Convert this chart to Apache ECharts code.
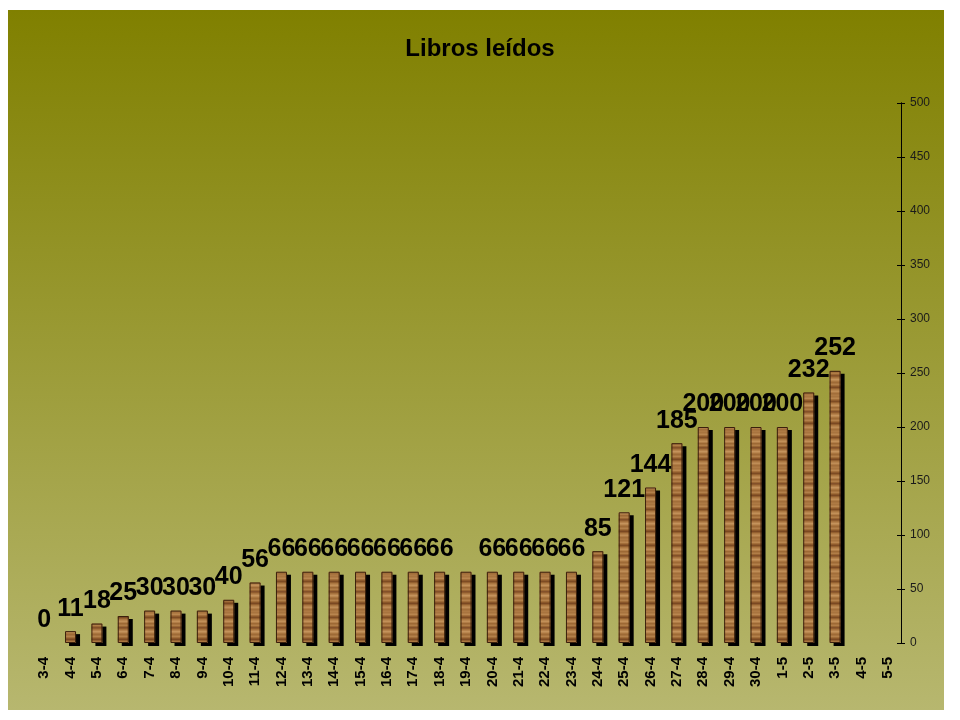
<!DOCTYPE html>
<html><head><meta charset="utf-8">
<script src="https://cdn.jsdelivr.net/npm/echarts@6/dist/echarts.min.js"></script>
<style>html,body{margin:0;background:#fff}#c{width:960px;height:720px}</style>
</head><body><div id="c"></div>
<script>
const categories = ['3-4','4-4','5-4','6-4','7-4','8-4','9-4','10-4','11-4','12-4','13-4','14-4','15-4','16-4','17-4','18-4','19-4','20-4','21-4','22-4','23-4','24-4','25-4','26-4','27-4','28-4','29-4','30-4','1-5','2-5','3-5','4-5','5-5'];
const values = [0,11,18,25,30,30,30,40,56,66,66,66,66,66,66,66,66,66,66,66,66,85,121,144,185,200,200,200,200,232,252,null,null];
const hiddenLabels = ['19-4'];
const yMin = 0, yMax = 500, yStep = 50;

// wood texture: fixed horizontal grain rows
const woodRows = ['#a8743f','#b07c46','#b9864f','#a36e3a','#8e5a2c','#7d4b23','#94602f','#ab7741','#b8854e','#c29058','#b27e48','#9d6935','#a7733e','#b17d47','#9a6633','#83502a','#8f5b2d','#a5713d','#b5814b','#c4935c','#ba8750','#a9753f','#9e6a36','#a8743f','#b3804a','#a06c38','#8a5629','#7a4822','#935f2f','#aa7640','#b6834d','#bf8d56','#b07c46','#a26e3a','#a8743f','#ae7a44'];
const wood = document.createElement('canvas');
wood.width = 960; wood.height = woodRows.length;
(function(){
  const g = wood.getContext('2d');
  woodRows.forEach((c, i) => { g.fillStyle = c; g.fillRect(0, i, 960, 1); });
})();

const chart = echarts.init(document.getElementById('c'));
const yAxisBase = {
  type: 'value', position: 'right', min: yMin, max: yMax, interval: yStep,
  splitLine: {show: false},
  axisLine: {show: true, lineStyle: {color: '#000', width: 1}}
};
chart.setOption({
  animation: false,
  graphic: [{
    type: 'rect', z: -10, silent: true,
    shape: {x: 8, y: 10, width: 936, height: 700},
    style: {fill: new echarts.graphic.LinearGradient(0,0,0,1,[{offset:0,color:'#808000'},{offset:1,color:'#b7b76f'}])}
  }],
  title: {
    text: 'Libros leídos', left: 'center', top: 32,
    textStyle: {fontFamily: 'Liberation Sans, Arial', fontWeight: 'bold', fontSize: 24, color: '#000'}
  },
  grid: {left: 31, right: 59, top: 103, bottom: 77},
  xAxis: {
    type: 'category', data: categories,
    axisLine: {show: false}, axisTick: {show: false},
    axisLabel: {rotate: 90, interval: 0, margin: 14, fontFamily: 'Liberation Sans, Arial', fontWeight: 'bold', fontSize: 15, color: '#000'}
  },
  yAxis: [
    Object.assign({}, yAxisBase, {
      axisTick: {show: true, length: 4, lineStyle: {color: '#000'}},
      axisLabel: {margin: 9, fontFamily: 'Liberation Sans, Arial', fontSize: 12, color: '#1a1a1a'}
    }),
    Object.assign({}, yAxisBase, {
      axisTick: {show: true, inside: true, length: 4, lineStyle: {color: '#000'}},
      axisLabel: {show: false}
    })
  ],
  series: [{
    type: 'bar', barWidth: 11, barGap: '-100%',
    data: values.map((v, i) => {
      const item = {value: v};
      if (hiddenLabels.includes(categories[i])) item.label = {show: false};
      if (v === 0) item.itemStyle = {color: 'rgba(0,0,0,0)', shadowColor: 'rgba(0,0,0,0)'};
      return item;
    }),
    itemStyle: {
      color: {image: wood, repeat: 'repeat'},
      borderWidth: 0,
      shadowColor: '#000', shadowBlur: 0, shadowOffsetX: 4, shadowOffsetY: 3
    },
    label: {
      show: true, position: 'top', distance: 10,
      fontFamily: 'Liberation Sans, Arial', fontWeight: 'bold', fontSize: 25, color: '#000'
    }
  }, {
    // thin dark outline of each bar face (no shadow)
    type: 'bar', barWidth: 11, barGap: '-100%', silent: true, z: 3,
    data: values.map(v => v === 0 ? null : v),
    itemStyle: {color: 'rgba(0,0,0,0)', borderColor: '#3a200c', borderWidth: 1},
    label: {show: false}
  }]
});
</script>
</body></html>
